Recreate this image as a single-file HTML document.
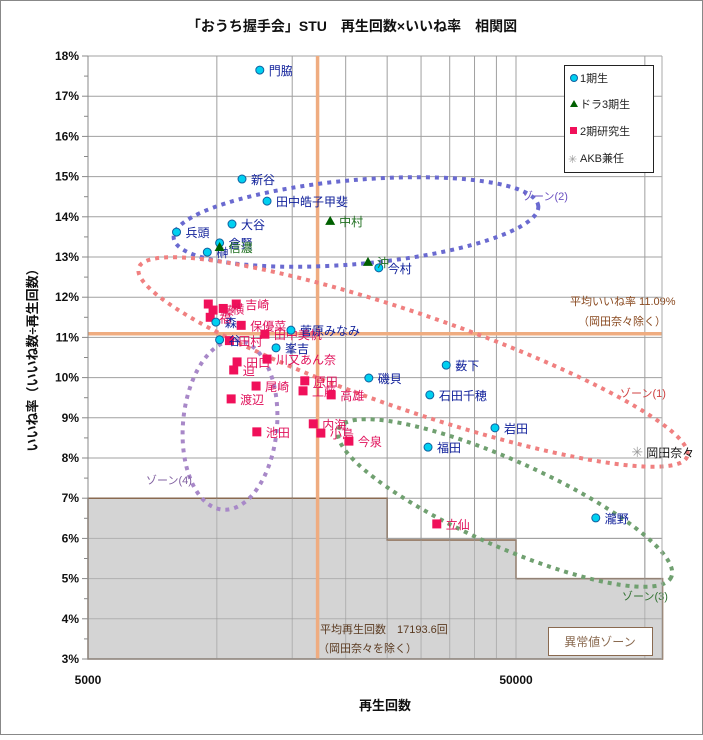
<!DOCTYPE html>
<html><head><meta charset="utf-8">
<style>
html,body{margin:0;padding:0;background:#fff}
body{width:703px;height:735px;overflow:hidden;font-family:"Liberation Sans","Noto Sans CJK JP",sans-serif}
svg text{font-family:"Liberation Sans","Noto Sans CJK JP",sans-serif}
</style></head>
<body>
<svg id="chart" width="703" height="735" xmlns="http://www.w3.org/2000/svg">
<rect x="0.5" y="0.5" width="702" height="734" fill="#fff" stroke="#888"/>
<text x="352" y="31" font-size="14" font-weight="bold" text-anchor="middle" fill="#111">「おうち握手会」STU　再生回数×いいね率　相関図</text>
<g id="grid"></g>
<g id="zone"></g>
<g id="avg"></g>
<g id="ellipses"></g>
<g id="points"></g>
<g id="axes"></g>
<text transform="translate(37,357) rotate(-90)" font-size="13" font-weight="bold" text-anchor="middle" fill="#111">いいね率（いいね数÷再生回数）</text>
<text x="385" y="710" font-size="13" font-weight="bold" text-anchor="middle" fill="#111">再生回数</text>
<g>
<rect x="564.5" y="65.5" width="89" height="107" fill="#fff" stroke="#222"/>
<g><circle cx="574" cy="78" r="3.5" fill="#00d0f0" stroke="#1060a0"/><text x="580" y="82" font-size="11" fill="#222">1期生</text></g>
<g><polygon points="574,100 578,107 570,107" fill="#006000"/><text x="580" y="108" font-size="11" fill="#222">ドラ3期生</text></g>
<g><rect x="570" y="127" width="7" height="7" fill="#f0105a"/><text x="580" y="135" font-size="11" fill="#222">2期研究生</text></g>
<g><text x="568" y="163" font-size="11" fill="#999">✳</text><text x="580" y="162" font-size="11" fill="#222">AKB兼任</text></g>
</g>
<g>
<rect x="548.5" y="627.5" width="104" height="28" fill="#fff" stroke="#8a6a50"/>
<text x="600" y="646" font-size="12" fill="#8a6a50" text-anchor="middle">異常値ゾーン</text>
</g>
</svg>
<script>
const xTicks=[5000,50000];
const xGrid=[10000,15000,20000,25000,30000,35000,40000,45000,50000,100000];
const yTicks=[3,4,5,6,7,8,9,10,11,12,13,14,15,16,17,18];
const avgViews=17193.6;
const avgLike=11.09;
const zoneX=[5000,25000,50000,110000];
const zoneY=[7,5.96,5];
const gen1Names=["門脇","新谷","田中皓子甲斐","大谷","兵頭","倉賢","榊","今村","峯吉","菅原みなみ","谷","森","磯貝","薮下","石田千穂","岩田","福田","瀧野"];
const gen1Views=[12600,11450,13100,10850,8050,10150,9500,23900,13750,14900,10150,9950,22650,34350,31450,44650,31150,76800];
const gen1Like=[17.65,14.94,14.39,13.82,13.62,13.35,13.12,12.73,10.74,11.18,10.94,11.38,9.99,10.31,9.57,8.75,8.27,6.51];
const gen3Names=["中村","沖","信濃"];
const gen3Views=[18400,22550,10150];
const gen3Like=[13.9,12.88,13.25];
const gen2Names=["吉崎","","藤","横","福","田村","保優菜","田中美帆","田口","川又あん奈","迫","尾崎","渡辺","原田","工藤","高雄","池田","内海","小島","今泉","立仙"];
const gen2Views=[11100,9550,9800,10350,9650,10700,11400,12950,11150,13100,10950,12350,10800,16050,15900,18500,12400,16800,17500,20350,32650];
const gen2Like=[11.83,11.83,11.68,11.72,11.5,10.92,11.3,11.08,10.39,10.46,10.19,9.79,9.47,9.92,9.67,9.57,8.65,8.85,8.62,8.42,6.36];
const akbNames=["岡田奈々"];
const akbViews=[96000];
const akbLike=[8.15];

const L=88,R=662,T=56,B=659;
const XMIN=5000,XMAX=110000,YMIN=3,YMAX=18;
const X=v=>L+(Math.log10(v)-Math.log10(XMIN))*428;
const Y=p=>B-(p-YMIN)/(YMAX-YMIN)*(B-T);
const NS="http://www.w3.org/2000/svg";
function mk(tag,parent,attrs){const e=document.createElementNS(NS,tag);for(const k in attrs)e.setAttribute(k,attrs[k]);parent.appendChild(e);return e;}
const grid=document.getElementById('grid');
const bg=mk('rect',grid,{x:L,y:T,width:R-L,height:B-T,fill:'#fff'});


yTicks.forEach(p=>{const l=mk('line',grid,{x1:L,x2:R,y1:Y(p),y2:Y(p),stroke:'#a0a0a0','stroke-width':1});

});
xGrid.forEach(v=>{const l=mk('line',grid,{x1:X(v),x2:X(v),y1:T,y2:B,stroke:'#a0a0a0','stroke-width':1});

});
const zg=document.getElementById('zone');
let d=`M${X(zoneX[0])},${B} L${X(zoneX[0])},${Y(zoneY[0])}`;
for(let i=0;i<zoneY.length;i++){d+=` L${X(zoneX[i+1])},${Y(zoneY[i])}`;if(i+1<zoneY.length)d+=` L${X(zoneX[i+1])},${Y(zoneY[i+1])}`;}
d+=` L${X(zoneX[zoneX.length-1])},${B} Z`;
const zp=mk('path',zg,{d:d,fill:'#d4d4d4',stroke:'#8a6a50','stroke-width':1.5});


yTicks.forEach(p=>{if(p>YMIN&&p<7){const l=mk('line',zg,{x1:L,x2:R,y1:Y(p),y2:Y(p),stroke:'#999','stroke-width':1,opacity:0.6});

}});
xGrid.forEach(v=>{const l=mk('line',zg,{x1:X(v),x2:X(v),y1:Y(7),y2:B,stroke:'#999','stroke-width':1,opacity:0.6});

});
const ag=document.getElementById('avg');
const av=mk('line',ag,{x1:X(avgViews),x2:X(avgViews),y1:T,y2:B,stroke:'#efac80','stroke-width':3.5});


const ah=mk('line',ag,{x1:L,x2:R,y1:Y(avgLike),y2:Y(avgLike),stroke:'#efac80','stroke-width':3.5});


function txt(parent,x,y,s,attrs){const t=mk('text',parent,Object.assign({x:x,y:y},attrs));t.textContent=s;return t;}
let t=txt(ag,570,305,'平均いいね率 '+avgLike.toFixed(2)+'%',{'font-size':11,fill:'#8a4a20'});


t=txt(ag,578,325,'（岡田奈々除く）',{'font-size':11,fill:'#8a4a20'});


t=txt(ag,320,633,'平均再生回数　'+avgViews.toFixed(1)+'回',{'font-size':11,fill:'#5a3a20'});


t=txt(ag,318,652,'（岡田奈々を除く）',{'font-size':11,fill:'#5a3a20'});


const eg=document.getElementById('ellipses');
const ells=[
 {n:'zone-2',cx:356,cy:222,rx:183,ry:42,rot:-5,c:'#6a6ad0',lx:522,ly:200,lc:'#6a50c0',s:'ゾーン(2)'},
 {n:'zone-1',cx:413,cy:362,rx:290,ry:48,rot:19,c:'#f08080',lx:620,ly:397,lc:'#d04040',s:'ゾーン(1)'},
 {n:'zone-4',cx:230,cy:425,rx:47,ry:85,rot:5,c:'#a888c8',lx:146,ly:484,lc:'#8060a0',s:'ゾーン(4)'},
 {n:'zone-3',cx:505,cy:503,rx:182,ry:43,rot:24,c:'#70a070',lx:622,ly:600,lc:'#307030',s:'ゾーン(3)'}];
ells.forEach(e=>{const el=mk('ellipse',eg,{cx:e.cx,cy:e.cy,rx:e.rx,ry:e.ry,transform:`rotate(${e.rot} ${e.cx} ${e.cy})`,fill:'none',stroke:e.c,'stroke-width':4,'stroke-dasharray':'4 5'});


const tl=txt(eg,e.lx,e.ly,e.s,{'font-size':11,fill:e.lc});

});
const pg=document.getElementById('points');
function series(names,vs,ls,kind,col,lcol){vs.forEach((v,i)=>{const x=X(v),y=Y(ls[i]);let m;
 if(kind==='c')m=mk('circle',pg,{cx:x,cy:y,r:4,fill:'#00d0f0',stroke:'#1060a0'});
 else if(kind==='t')m=mk('polygon',pg,{points:`${x},${y-5} ${x+5},${y+4} ${x-5},${y+4}`,fill:'#006000'});
 else if(kind==='s')m=mk('rect',pg,{x:x-4.5,y:y-4.5,width:9,height:9,fill:'#f0105a'});
 else {m=mk('text',pg,{x:x,y:y+5,'font-size':14,fill:'#999','text-anchor':'middle'});m.textContent='✳';}
 
 
 if(names[i]){const tl=txt(pg,x+9,y+5,names[i],{'font-size':12,fill:lcol});
 
 }});}
series(gen2Names,gen2Views,gen2Like,'s','#f0105a','#e0105a');
series(gen1Names,gen1Views,gen1Like,'c','#00d0f0','#10209a');
series(gen3Names,gen3Views,gen3Like,'t','#006000','#207020');
series(akbNames,akbViews,akbLike,'a','#999','#111');
const ax=document.getElementById('axes');
const yl=mk('line',ax,{x1:L,x2:L,y1:T,y2:B,stroke:'#888'});


const xl=mk('line',ax,{x1:L,x2:R,y1:B,y2:B,stroke:'#888'});


const rl=mk('line',ax,{x1:R,x2:R,y1:T,y2:B,stroke:'#aaa'});


yTicks.forEach(p=>{const tk=mk('line',ax,{x1:L-6,x2:L,y1:Y(p),y2:Y(p),stroke:'#888'});


if(p<YMAX){const m=mk('line',ax,{x1:L-4,x2:L,y1:Y(p+0.5),y2:Y(p+0.5),stroke:'#888'});

}
const tl=txt(ax,L-9,Y(p)+4,p+'%',{'font-size':12,'font-weight':'bold','text-anchor':'end',fill:'#111'});

});
xTicks.forEach(v=>{const tl=txt(ax,X(v),684,String(v),{'font-size':12,'font-weight':'bold','text-anchor':'middle',fill:'#111'});

});
</script>
</body></html>
